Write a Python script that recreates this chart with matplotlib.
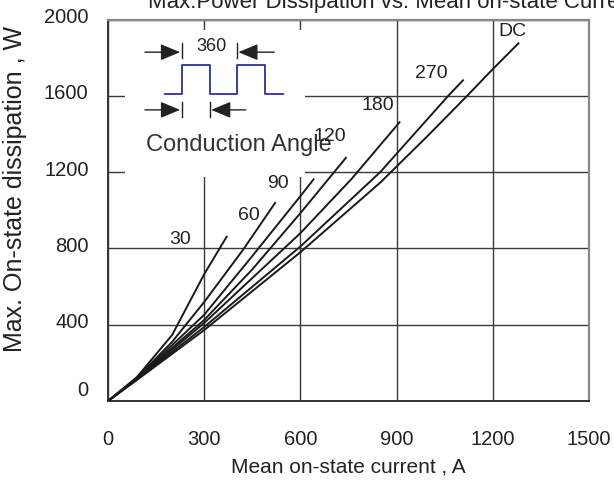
import numpy as np
import matplotlib
matplotlib.use('Agg')
import matplotlib.pyplot as plt
from matplotlib.transforms import ScaledTranslation

plt.rcParams['font.family'] = ['Liberation Sans', 'DejaVu Sans']

# curves: mean current (A) -> max dissipation (W)
i_30 = [0, 90, 200, 300, 370]
p_30 = [0, 125, 346, 665, 861]
i_60 = [0, 90, 200, 300, 420, 521]
p_60 = [0, 122, 310, 519, 790, 1038]
i_90 = [0, 90, 300, 450, 600, 641]
p_90 = [0, 118, 452, 760, 1074, 1162]
i_120 = [0, 90, 300, 450, 600, 742]
p_120 = [0, 117, 425, 690, 985, 1275]
i_180 = [0, 90, 300, 600, 760, 909]
p_180 = [0, 115, 409, 880, 1165, 1461]
i_270 = [0, 90, 300, 600, 849, 1061, 1107]
p_270 = [0, 113, 388, 810, 1200, 1600, 1681]
i_dc = [0, 90, 300, 600, 849, 1000, 1120, 1200, 1280]
p_dc = [0, 110, 372, 780, 1145, 1395, 1600, 1740, 1875]

curves = [(i_30, p_30), (i_60, p_60), (i_90, p_90), (i_120, p_120),
          (i_180, p_180), (i_270, p_270), (i_dc, p_dc)]
curve_labels = ['30', '60', '90', '120', '180', '270', 'DC']
label_i = [225, 438, 531, 693, 841, 1008, 1261]
label_p = [849, 975, 1141, 1385, 1551, 1717, 1935]

x_ticks = [0, 300, 600, 900, 1200, 1500]
y_ticks = [0, 400, 800, 1200, 1600, 2000]

fig = plt.figure(figsize=(6.14, 4.84), dpi=100)
ax = fig.add_axes([108 / 614, 83 / 484, 481 / 614, 381.5 / 484])

for (xs, ys) in curves:
    ax.plot(xs, ys, color='#1a1a1a', lw=1.4, zorder=3)

for txt, xi, yi in zip(curve_labels, label_i, label_p):
    ax.text(xi, yi, txt, fontsize=14, color='#222222', ha='center', va='center', zorder=4)

ax.set_xlim(0, 1500)
ax.set_ylim(0, 2000)
ax.set_xticks(x_ticks)
ax.set_yticks(y_ticks)
ax.tick_params(length=0, labelsize=14.5, colors='#222222')
ax.tick_params(axis='x', pad=21)
ax.tick_params(axis='y', pad=14)
ax.grid(True, color='#3a3a3a', lw=1.0, zorder=1)

# labels sit slightly above their grid line, the 0 label noticeably so
for k, lab in enumerate(ax.get_yticklabels()):
    dy = 13 if k == 0 else 4
    lab.set_transform(lab.get_transform() + ScaledTranslation(0, dy / 100, fig.dpi_scale_trans))

for side in ['top', 'right']:
    ax.spines[side].set_color('#888888')
    ax.spines[side].set_linewidth(1.6)
for side in ['left', 'bottom']:
    ax.spines[side].set_color('#333333')
    ax.spines[side].set_linewidth(1.4)

ax.set_xlabel('Mean on-state current , A', fontsize=15, color='#222222', labelpad=6)
ax.set_ylabel('Max. On-state dissipation , W', fontsize=18, color='#222222')
ax.yaxis.set_label_coords(-0.168, 0.555)

# white patch behind the conduction-angle sketch
ax.add_patch(plt.Rectangle((0.035, 0.587), 0.375, 0.385, transform=ax.transAxes,
                           facecolor='white', edgecolor='none', zorder=2))
ax.text(0.078, 0.672, 'Conduction Angle', transform=ax.transAxes, fontsize=17,
        color='#333333', ha='left', va='center', zorder=2.5)

# conduction-angle sketch, x in electrical degrees
ins = fig.add_axes([140 / 614, (484 - 120) / 484, 150 / 614, 80 / 484])
ins.set_xlim(-270, 700)
ins.set_ylim(-0.9, 1.86)
ins.axis('off')
wave_x = [-108, 0, 0, 180, 180, 360, 360, 540, 540, 654]
wave_y = [0, 0, 1, 1, 0, 0, 1, 1, 0, 0]
ins.plot(wave_x, wave_y, color='#2e3192', lw=1.3)

arrow_kw = dict(arrowstyle='-|>,head_length=0.6,head_width=0.25', mutation_scale=20,
                color='#222222', lw=1.0, shrinkA=0, shrinkB=0)
# period arrows
ins.annotate('', xy=(-11, 1.44), xytext=(-238, 1.44), arrowprops=arrow_kw)
ins.annotate('', xy=(366, 1.44), xytext=(597, 1.44), arrowprops=arrow_kw)
ins.plot([0, 0], [1.24, 1.76], color='#222222', lw=1.0)
ins.plot([360, 360], [1.24, 1.76], color='#222222', lw=1.0)
ins.text(190, 1.63, '360', fontsize=13, color='#222222', ha='center', va='center')
# conduction arrows
ins.annotate('', xy=(-11, -0.55), xytext=(-238, -0.55), arrowprops=arrow_kw)
ins.annotate('', xy=(190, -0.55), xytext=(414, -0.55), arrowprops=arrow_kw)
ins.plot([0, 0], [-0.27, -0.78], color='#222222', lw=1.0)
ins.plot([180, 180], [-0.27, -0.78], color='#222222', lw=1.0)

# title, cut off by the top edge in the original
fig.text(148 / 614, 1 - 8 / 484, 'Max.Power Dissipation vs. Mean on-state Current',
         fontsize=16, color='#222222', ha='left', va='baseline')

fig.savefig('out.png', dpi=100)
